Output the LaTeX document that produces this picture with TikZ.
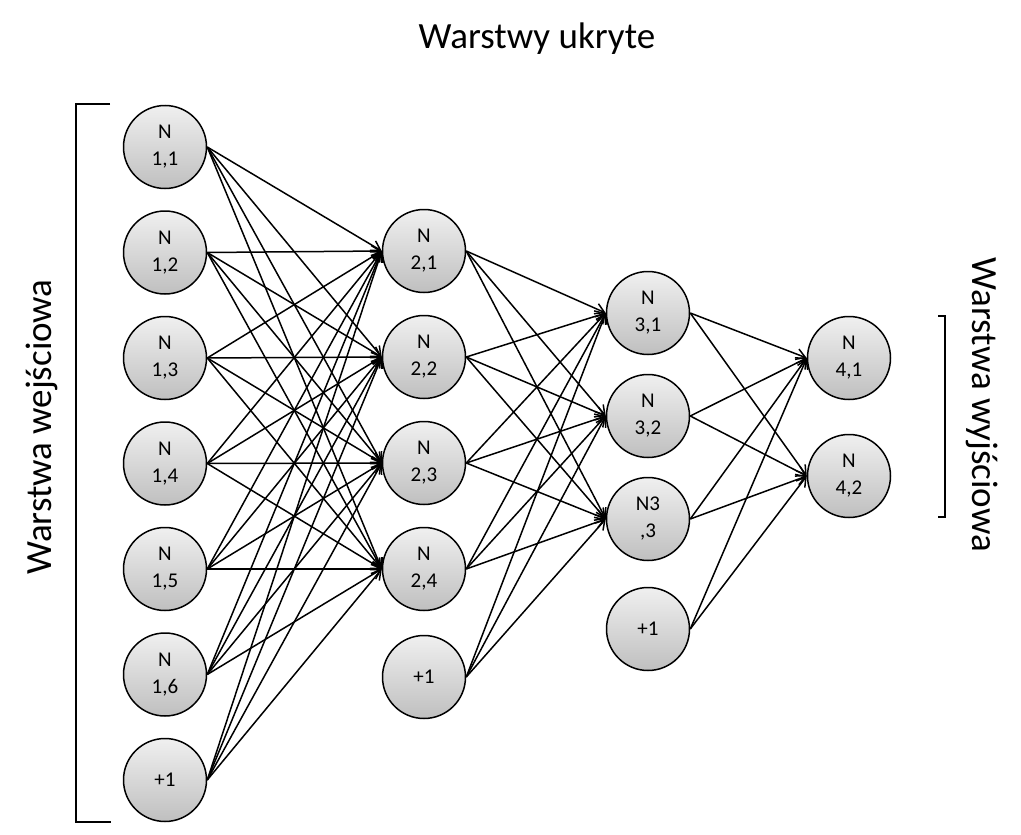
\documentclass[tikz,border=0pt]{standalone}
\usepackage{fontspec}
\setmainfont{Carlito}
\usetikzlibrary{arrows.meta}

\begin{document}
\begin{tikzpicture}[x=1pt, y=-1pt, line width=1.5pt,
  neuron/.style = {draw, circle, minimum size=83pt, inner sep=0pt, align=center,
    top color=black!6, bottom color=black!25, font=\fontsize{21}{27}\selectfont},
  edge/.style = {-{Straight Barb[length=9pt, width=11pt, line width=1.5pt]}},
  layerlabel/.style = {font=\fontsize{37}{40}\selectfont}]
\useasboundingbox (0,0) rectangle (1021,835);
% input layer
\node[neuron] (n11) at (165,147) {N\\1,1};
\node[neuron, node distance=105.5pt] (n12) [below of=n11] {N\\1,2};
\node[neuron, node distance=105.5pt] (n13) [below of=n12] {N\\1,3};
\node[neuron, node distance=105.5pt] (n14) [below of=n13] {N\\1,4};
\node[neuron, node distance=105.5pt] (n15) [below of=n14] {N\\1,5};
\node[neuron, node distance=105.5pt] (n16) [below of=n15] {N\\1,6};
\node[neuron, node distance=105.5pt] (n17) [below of=n16] {+1};
% hidden layers
\node[neuron] (n21) at (424,251) {N\\2,1};
\node[neuron, node distance=106pt] (n22) [below of=n21] {N\\2,2};
\node[neuron, node distance=106pt] (n23) [below of=n22] {N\\2,3};
\node[neuron, node distance=106pt] (n24) [below of=n23] {N\\2,4};
\node[neuron, node distance=108pt] (n25) [below of=n24] {+1};
\node[neuron] (n31) at (648,313) {N\\3,1};
\node[neuron, node distance=103pt] (n32) [below of=n31] {N\\3,2};
\node[neuron, node distance=103pt] (n33) [below of=n32] {N3\\,3};
\node[neuron, node distance=110pt] (n34) [below of=n33] {+1};
% output layer
\node[neuron] (n41) at (849,358) {N\\4,1};
\node[neuron, node distance=118pt] (n42) [below of=n41] {N\\4,2};
% connections
\foreach \i in {1,...,7}
  \foreach \j in {1,...,4}
    \draw[edge] (n1\i.east) -- (n2\j.west);
\foreach \i in {1,...,5}
  \foreach \j in {1,...,3}
    \draw[edge] (n2\i.east) -- (n3\j.west);
\foreach \i in {1,...,4}
  \foreach \j in {1,2}
    \draw[edge] (n3\i.east) -- (n4\j.west);
% labels and brackets
\node[layerlabel] (hidden) at (537,39) {Warstwy ukryte};
\node[layerlabel, rotate=90] (input) at (42,427) {Warstwa wejściowa};
\node[layerlabel, rotate=-90] (output) at (982,405) {Warstwa wyjściowa};
\draw[line width=1.6pt] (110,104) -- (76,104) -- (76,822) -- (111,822);
\draw[line width=1.6pt] (938,316) -- (945,316) -- (945,517) -- (938,517);
\end{tikzpicture}
\end{document}
